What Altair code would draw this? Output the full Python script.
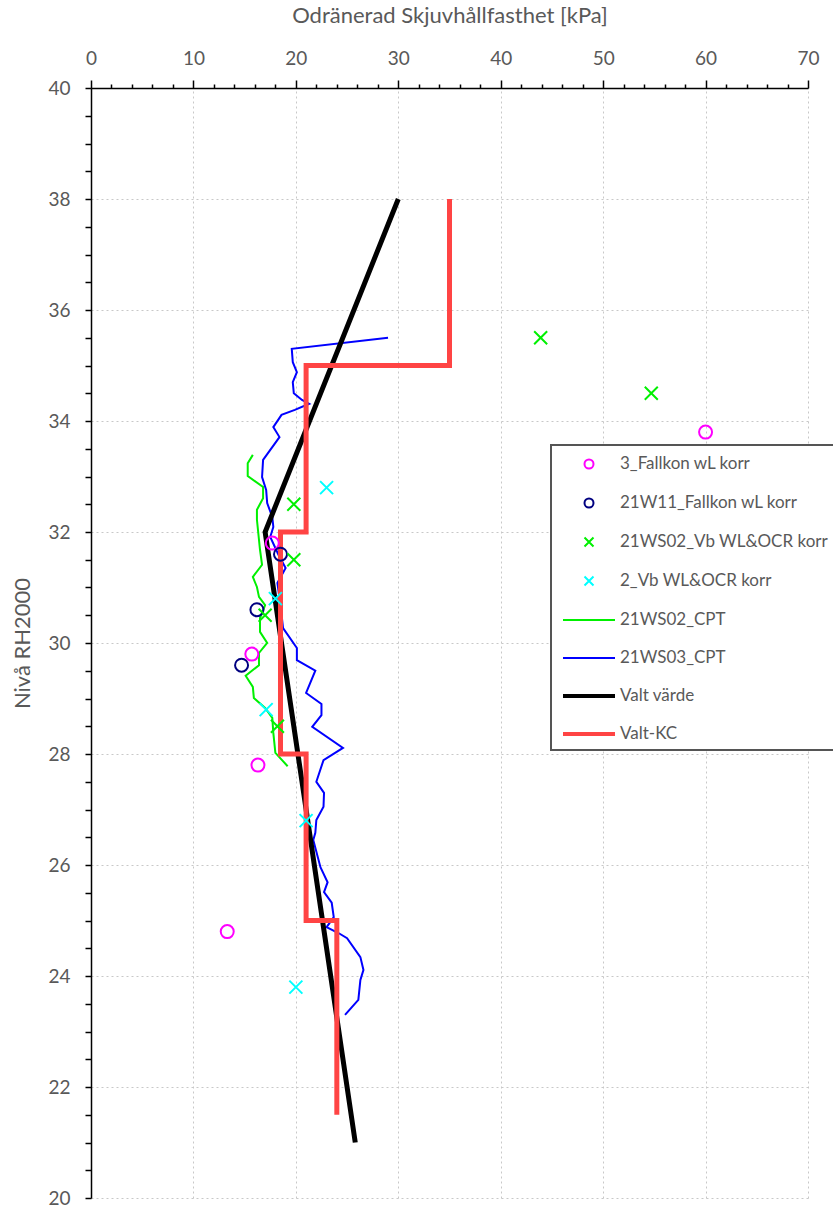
import altair as alt
import pandas as pd

# ---------------- data ----------------
S_FALL3 = "3_Fallkon wL korr"
S_W11 = "21W11_Fallkon wL korr"
S_WS02VB = "21WS02_Vb WL&OCR korr"
S_VB2 = "2_Vb WL&OCR korr"
S_CPT02 = "21WS02_CPT"
S_CPT03 = "21WS03_CPT"
S_VALT = "Valt värde"
S_KC = "Valt-KC"

fall3_x = [60.0, 17.7, 15.7, 16.3, 13.3]
fall3_y = [33.8, 31.8, 29.8, 27.8, 24.8]

w11_x = [18.5, 16.2, 14.7]
w11_y = [31.6, 30.6, 29.6]

ws02vb_x = [43.9, 54.7, 64.6, 19.8, 19.8, 17.0, 18.2]
ws02vb_y = [35.5, 34.5, 33.45, 32.5, 31.5, 30.5, 28.5]

vb2_x = [23.0, 18.0, 17.1, 21.0, 20.0]
vb2_y = [32.8, 30.8, 28.8, 26.8, 23.8]

cpt02_x = [15.8, 15.3, 15.3, 16.8, 16.8, 16.2, 16.2, 16.5, 16.7, 15.8, 16.2, 16.4,
           17.0, 16.5, 16.5, 17.2, 16.4, 16.4, 15.1, 15.8, 15.9, 17.0, 17.7, 17.8,
           18.0, 19.2]
cpt02_y = [33.39, 33.24, 33.01, 32.81, 32.61, 32.40, 32.22, 31.68, 31.41, 31.19,
           31.01, 30.83, 30.68, 30.45, 30.20, 30.00, 29.82, 29.60, 29.41, 29.21,
           29.01, 28.83, 28.65, 28.38, 28.02, 27.78]

cpt03_x = [29.0, 19.6, 19.7, 20.1, 19.7, 19.8, 20.6, 21.3, 19.9, 18.6, 17.8, 18.4,
           16.8, 16.7, 17.1, 17.2, 17.7, 17.8, 17.5, 18.3, 19.0, 18.2, 18.5, 18.75,
           20.1, 20.1, 21.9, 21.0, 22.5, 22.5, 21.6, 24.6, 22.7, 22.0, 22.75, 22.7,
           22.0, 21.9, 21.7, 22.4, 23.1, 22.75, 23.5, 23.7, 23.0, 24.2, 25.0, 26.3,
           26.6, 26.3, 26.1, 24.8]
cpt03_y = [35.50, 35.30, 35.06, 34.88, 34.70, 34.50, 34.38, 34.31, 34.20, 34.11,
           33.89, 33.71, 33.30, 32.99, 32.76, 32.52, 32.27, 32.09, 31.91, 31.59,
           31.35, 31.08, 30.68, 30.27, 29.91, 29.69, 29.50, 29.10, 28.90, 28.70,
           28.49, 28.11, 27.89, 27.50, 27.30, 27.05, 26.81, 26.58, 26.45, 25.96,
           25.69, 25.51, 25.32, 25.06, 24.88, 24.77, 24.68, 24.34, 24.11, 23.93,
           23.57, 23.30]

valt_x = [30.0, 17.0, 25.8]
valt_y = [38.0, 32.0, 21.0]

kc_x = [35.0, 35.0, 21.0, 21.0, 18.5, 18.5, 21.0, 21.0, 24.0, 24.0]
kc_y = [38.0, 35.0, 35.0, 32.0, 32.0, 28.0, 28.0, 25.0, 25.0, 21.5]

x_major = [0, 10, 20, 30, 40, 50, 60, 70]
x_minor = [v for v in range(0, 71, 2) if v % 10 != 0]
y_major = [20, 22, 24, 26, 28, 30, 32, 34, 36, 38, 40]
y_minor = [20 + 0.5 * i for i in range(41) if (20 + 0.5 * i) not in y_major]

# ---------------- styling ----------------
FONT = "Lato"
GREY = "#595959"
series_order = [S_FALL3, S_W11, S_WS02VB, S_VB2, S_CPT02, S_CPT03, S_VALT, S_KC]
series_colors = ["#FF00FF", "#000080", "#00F000", "#00FFFF", "#00F000", "#0000FF",
                 "#000000", "#FF4444"]
P_CIRCLE = "M0.45,0A0.45,0.45,0,1,1,-0.45,0A0.45,0.45,0,1,1,0.45,0Z"
P_X = "M-0.45,-0.45L0.45,0.45M-0.45,0.45L0.45,-0.45"
P_THIN = "M-2.6,0L2.6,0"
P_THICK = "M-2.6,-0.1L2.6,-0.1M-2.6,0L2.6,0M-2.6,0.1L2.6,0.1"
series_shapes = [P_CIRCLE, P_CIRCLE, P_X, P_X, P_THIN, P_THIN, P_THICK, P_THICK]


def frame(name, xs, ys):
    return pd.DataFrame({"series": name, "x": xs, "y": ys, "i": list(range(len(xs)))})


xscale = alt.Scale(domain=[0, 70], nice=False, zero=False)
yscale = alt.Scale(domain=[20, 40], nice=False, zero=False)
cscale = alt.Scale(domain=series_order, range=series_colors)
sscale = alt.Scale(domain=series_order, range=series_shapes)

legend = alt.Legend(
    title=None, orient="none", legendX=460, legendY=357,
    fillColor="white", strokeColor="#555555", padding=8,
    symbolSize=400, symbolStrokeWidth=2, symbolOffset=19, labelOffset=20,
    rowPadding=19, labelFont=FONT, labelFontSize=17, labelColor=GREY,
    labelLimit=400, values=series_order,
)

GRID_COLOR = "#c8c8c8"
x_axis_major = alt.Axis(
    orient="top", values=x_major, title="Odränerad Skjuvhållfasthet [kPa]",
    tickSize=8, tickWidth=1.5, tickColor="black", domainColor="black", domainWidth=1.5,
    labelFont=FONT, labelFontSize=19, labelColor=GREY, labelPadding=12,
    titleFont=FONT, titleFontSize=22, titleFontWeight="normal", titleColor=GREY,
    titlePadding=22, grid=True, gridColor=GRID_COLOR, gridDash=[2, 3], gridWidth=1,
    labelFlush=False,
)
y_axis_major = alt.Axis(
    orient="left", values=y_major, title="Nivå RH2000",
    tickSize=6, tickWidth=1.5, tickColor="black", domainColor="black", domainWidth=1.5,
    labelFont=FONT, labelFontSize=19, labelColor=GREY, labelPadding=15,
    titleFont=FONT, titleFontSize=22, titleFontWeight="normal", titleColor=GREY,
    titlePadding=13, grid=True, gridColor=GRID_COLOR, gridDash=[2, 3], gridWidth=1,
    labelFlush=False,
)
x_axis_minor = alt.Axis(
    orient="top", values=x_minor, title=None, labels=False, domain=False, grid=False,
    tickSize=4, tickWidth=1.5, tickColor="black",
)
y_axis_minor = alt.Axis(
    orient="left", values=y_minor, title=None, labels=False, domain=False, grid=False,
    tickSize=6, tickWidth=1.5, tickColor="black",
)


def enc(xaxis=None, yaxis=None, shape=False):
    e = dict(
        x=alt.X("x:Q", scale=xscale, axis=xaxis),
        y=alt.Y("y:Q", scale=yscale, axis=yaxis),
        color=alt.Color("series:N", scale=cscale, legend=legend),
    )
    if shape:
        e["shape"] = alt.Shape("series:N", scale=sscale, legend=legend)
    else:
        e["order"] = alt.Order("i:Q")
    return e


l_cpt02 = alt.Chart(frame(S_CPT02, cpt02_x, cpt02_y)).mark_line(strokeWidth=2).encode(
    **enc(x_axis_major, y_axis_major))
l_cpt03 = alt.Chart(frame(S_CPT03, cpt03_x, cpt03_y)).mark_line(strokeWidth=2).encode(
    **enc(x_axis_minor, y_axis_minor))
l_valt = alt.Chart(frame(S_VALT, valt_x, valt_y)).mark_line(strokeWidth=5).encode(**enc())
l_kc = alt.Chart(frame(S_KC, kc_x, kc_y)).mark_line(strokeWidth=5).encode(**enc())

pts = pd.concat([
    frame(S_FALL3, fall3_x, fall3_y),
    frame(S_W11, w11_x, w11_y),
    frame(S_WS02VB, ws02vb_x, ws02vb_y),
    frame(S_VB2, vb2_x, vb2_y),
], ignore_index=True)
p_all = alt.Chart(pts).mark_point(filled=False, size=835, strokeWidth=2, opacity=1).encode(
    **enc(shape=True))

chart = (
    alt.layer(l_cpt02, l_cpt03, l_valt, l_kc, p_all)
    .resolve_axis(x="independent", y="independent")
    .properties(
        width=717, height=1110,
        autosize=alt.AutoSizeParams(type="none"),
        padding={"left": 91, "top": 88, "right": 25, "bottom": 13},
        background="white",
    )
    .configure_view(stroke=None)
    .configure_legend(strokeWidth=2)
)

chart.save("out.html", embed_options={"renderer": "svg", "actions": False})
